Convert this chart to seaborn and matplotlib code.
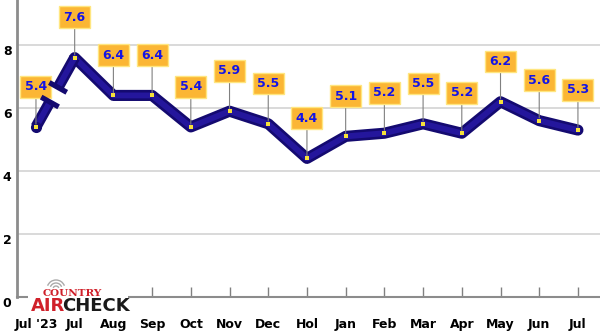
import matplotlib
matplotlib.use("Agg")
import matplotlib.pyplot as plt
import seaborn as sns
import pandas as pd
import numpy as np
from matplotlib.patches import Arc, Rectangle

months = ["Jul '23", "Jul", "Aug", "Sep", "Oct", "Nov", "Dec", "Hol",
          "Jan", "Feb", "Mar", "Apr", "May", "Jun", "Jul"]
values = [5.4, 7.6, 6.4, 6.4, 5.4, 5.9, 5.5, 4.4, 5.1, 5.2, 5.5, 5.2, 6.2, 5.6, 5.3]
yticks = [0, 2, 4, 6, 8]

df = pd.DataFrame({"pos": np.arange(len(months)), "value": values, "month": months})

sns.set_theme(style="white")
plt.rcParams['font.family'] = ['DejaVu Sans']

fig = plt.figure(figsize=(6, 3.33), dpi=100)
ax = fig.add_axes([17/600, 36/333, 1 - 17/600, 1 - 36/333])

ax.set_xlim(-0.49, 14.57)
ax.set_ylim(0, 9.43)

for y in yticks[1:]:
    ax.axhline(y, color="#d9d9d9", lw=1.4, zorder=0)

main = df.iloc[1:]
OUT = "#140a70"
INN = "#24169c"
LW_O, LW_I = 8.0, 4.2
sns.lineplot(data=main, x="pos", y="value", ax=ax, color=OUT, lw=LW_O,
             solid_capstyle="round", solid_joinstyle="round", zorder=3)
sns.lineplot(data=main, x="pos", y="value", ax=ax, color=INN, lw=LW_I,
             solid_capstyle="round", solid_joinstyle="round", zorder=3)

# broken first segment
x0, y0 = df.pos[0], df.value[0]
x1, y1 = df.pos[1], df.value[1]
fa, fb = 0.36, 0.57
xa, ya = x0 + (x1 - x0) * fa, y0 + (y1 - y0) * fa
xb, yb = x0 + (x1 - x0) * fb, y0 + (y1 - y0) * fb
ax.plot([x0, xa], [y0, ya], color=OUT, lw=LW_O, solid_capstyle="butt", zorder=3)
ax.plot([x0, xa], [y0, ya], color=INN, lw=LW_I, solid_capstyle="butt", zorder=3)
ax.plot([xb, x1], [yb, y1], color=OUT, lw=LW_O, solid_capstyle="butt", zorder=3)
ax.plot([xb, x1], [yb, y1], color=INN, lw=LW_I, solid_capstyle="butt", zorder=3)
ax.scatter([x0], [y0], s=LW_O**2, color=OUT, zorder=3, linewidths=0)
fig.canvas.draw()
d0 = ax.transData.transform((x0, y0))
d1 = ax.transData.transform((x1, y1))
v = (d1 - d0) / np.linalg.norm(d1 - d0)
n = np.array([-v[1], v[0]])
for (px, py) in [(xa, ya), (xb, yb)]:
    c = ax.transData.transform((px, py))
    p1 = ax.transData.inverted().transform(c + n * 10)
    p2 = ax.transData.inverted().transform(c - n * 10)
    ax.plot([p1[0], p2[0]], [p1[1], p2[1]], color=OUT, lw=3.8, solid_capstyle="butt", zorder=7)

ax.scatter(df.pos, df.value, marker="s", s=10, color="#f7e23a", zorder=5, linewidths=0)

for x, v_ in zip(df.pos, df.value):
    ax.annotate(f"{v_:.1f}", xy=(x, v_), xytext=(0, 29), textcoords="offset points",
                ha="center", va="center", fontsize=9, fontweight="bold",
                color="#1414e6",
                bbox=dict(boxstyle="square,pad=0.35", fc="#fbb634", ec="#ffe680", lw=1),
                arrowprops=dict(arrowstyle="-", color="#808080", lw=0.8,
                                shrinkA=0, shrinkB=2),
                zorder=6)

ax.set_xticks(df.pos)
ax.set_xticklabels(months, fontsize=9, fontweight="bold", color="black")
ax.set_yticks(yticks)
ax.set_yticklabels([str(t) for t in yticks], fontsize=9, fontweight="bold", color="black")
ax.tick_params(axis="x", direction="in", length=7, width=1, color="#808080", pad=15, bottom=True)
ax.tick_params(axis="y", length=0, pad=4)
for lab in ax.get_yticklabels():
    lab.set_verticalalignment("top")

for s in ["top", "right"]:
    ax.spines[s].set_visible(False)
ax.spines["left"].set_color("#8c8c8c")
ax.spines["left"].set_linewidth(2)
ax.spines["bottom"].set_color("#8c8c8c")
ax.spines["bottom"].set_linewidth(1.5)
ax.set_xlabel("")
ax.set_ylabel("")

# logo
fig.patches.append(Rectangle((28/600, 1 - 318/333), 100/600, 40/333, transform=fig.transFigure,
                             fc="white", ec="none", zorder=10))
fig.text(72/600, 1 - 293/333, "COUNTRY", color="#d0202a", fontsize=7.5, fontweight="bold",
         ha="center", va="center", family="DejaVu Serif", zorder=11)
fig.text(31/600, 1 - 306/333, "AIR", color="#d0202a", fontsize=13, fontweight="bold",
         ha="left", va="center", zorder=11)
fig.text(62/600, 1 - 306/333, "CHECK", color="#1a1a1a", fontsize=13, fontweight="bold",
         ha="left", va="center", zorder=11)
for r in [3, 6, 9]:
    fig.patches.append(Arc((56/600, 1 - 289/333), 2*r/600, 2*r/333, theta1=35, theta2=145,
                           transform=fig.transFigure, color="#aaaaaa", lw=1, zorder=11))

fig.savefig("out.png", dpi=100, facecolor="white")
